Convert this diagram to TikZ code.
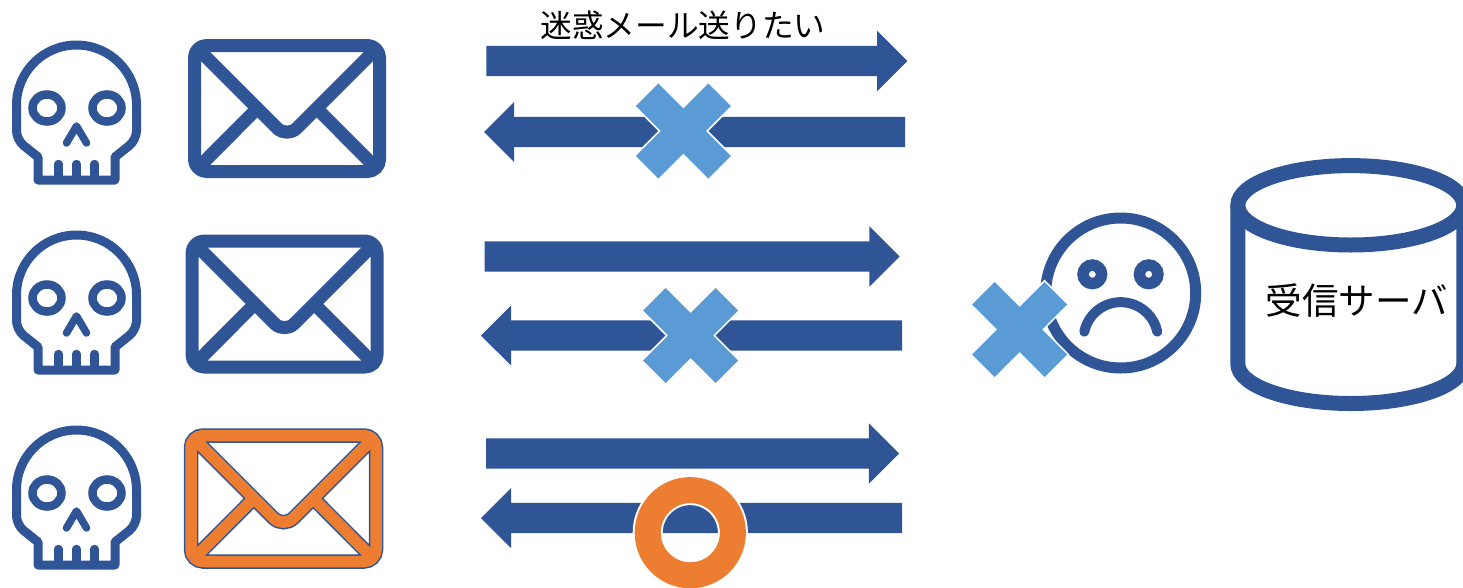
\documentclass[tikz,border=0pt]{standalone}
\usepackage{fontspec}
\newfontfamily\jpfont{Noto Sans CJK JP}
\usetikzlibrary{positioning, shapes, arrows.meta, calc}
\definecolor{navy}{HTML}{2F5597}
\definecolor{sky}{HTML}{5B9BD5}
\definecolor{tangerine}{HTML}{ED7D31}
\tikzset{
  x=1pt, y=-1pt,
  rarrow/.style={single arrow, fill=navy, anchor=tail, inner xsep=0pt, inner ysep=15pt, outer sep=0pt,
    single arrow head extend=15pt, single arrow head indent=0pt},
  larrow/.style={rarrow, shape border rotate=180},
  label/.style={font=\jpfont\fontsize{31.7}{38}\selectfont, text=black, inner sep=0pt},
  mailblue/.style={draw=navy, line width=13pt},
  mailorange/.style={draw=tangerine, line width=11.5pt,
    preaction={draw=navy, line width=14.5pt}},
  pics/skull/.style={code={
    \draw[navy, line width=9pt, line join=round] (-60,-7.5) arc[start angle=180, end angle=360, radius=60]
      [rounded corners=9pt] -- (60,27.3) [sharp corners] -- (38.5,44.5) -- (38.5,67.5) -- (-38.5,67.5) -- (-38.5,44.5)
      [rounded corners=9pt] -- (-60,27.3) [sharp corners] -- cycle;
    \draw[navy, line width=8.5pt] (-29.5,-4.5) ellipse[x radius=14.5, y radius=13.5];
    \draw[navy, line width=8.5pt] (30.5,-4.5) ellipse[x radius=14.5, y radius=13.5];
    \draw[navy, line width=7.5pt, line cap=round, line join=round] (-10,30.5) -- (0,13.5) -- (10,30.5);
    \foreach \t in {-18,0,18}
    \draw[navy, line width=8.5pt, line cap=round] (\t,51.5) -- (\t,67.5);
  }},
  pics/mail/.style={code={
    \path[#1, line join=round]
      [rounded corners=12pt] (-92.5,-63) rectangle (92.5,63)
      [sharp corners] (-92.5,-63) [rounded corners=14pt] -- (0,29.5) [sharp corners] -- (92.5,-63)
      (-92.5,63) -- (-30,0.2)
      (92.5,63) -- (30,0.2);
  }},
  pics/crossmark/.style={code={
    \path[fill=sky, preaction={draw=white, line width=3.5pt}]
      (-25,-47.5) -- (0,-22.5) -- (25,-47.5) -- (47.5,-25) -- (22.5,0) -- (47.5,25)
      -- (25,47.5) -- (0,22.5) -- (-25,47.5) -- (-47.5,25) -- (-22.5,0) -- (-47.5,-25) -- cycle;
  }},
}
\begin{document}
\begin{tikzpicture}
  \clip (0,0) rectangle (1463,587);
  \fill[white] (0,0) rectangle (1463,587);

  % Senders
  \foreach \i/\y in {1/112.5,2/302.5,3/497.5}
  \pic (skull\i) at (76.5,\y) {skull};
  \pic (mail1) at (287,108.5) {mail=mailblue};
  \pic (mail2) at (284.5,304) {mail=mailblue};
  \pic (mail3) at (283.5,498.5) {mail=mailorange};

  % Arrows
  \node[rarrow, minimum height=421pt] (send1) at (486.3,61) {};
  \node[larrow, minimum height=421pt] (back1) at (905,132) {};
  \node[rarrow, minimum height=415pt] (send2) at (484.5,256.5) {};
  \node[larrow, minimum height=421pt] (back2) at (902,335.5) {};
  \node[rarrow, minimum height=413pt] (send3) at (486,453.5) {};
  \node[larrow, minimum height=421pt] (back3) at (902,518) {};
  \node[label] (spamlabel) at (683,25) {迷惑メール送りたい};

  % Marks
  \pic (cross1) at (683.3,131) {crossmark};
  \pic (cross2) at (690.5,335.5) {crossmark};
  \draw[tangerine, line width=26pt, preaction={draw=white, line width=30pt}] (690.3,532.7) circle[radius=42.6];

  % Sad face
  \draw[navy, line width=11pt] (1120.7,293) circle[radius=75];
  \foreach \x in {1092.3,1148.7}
  \draw[navy, line width=11.5pt] (\x,274.3) circle[radius=9.25];
  \draw[navy, line width=10pt, line cap=round] (1084.3,331.7) arc[start angle=192, end angle=348, radius=37.3];
  \pic (cross3) at (1019.5,329.5) {crossmark};

  % Server
  \draw[navy, line width=15pt] (1350.8,205.3) ellipse[x radius=113, y radius=39.7];
  \draw[navy, line width=15pt] (1237.8,205.3) -- (1237.8,363.8) arc[start angle=180, end angle=0, x radius=113, y radius=39.7] -- (1463.8,205.3);
  \node[label, font=\jpfont\fontsize{36.5}{44}\selectfont] (server) at (1356.7,300.7) {受信サーバ};
\end{tikzpicture}
\end{document}
